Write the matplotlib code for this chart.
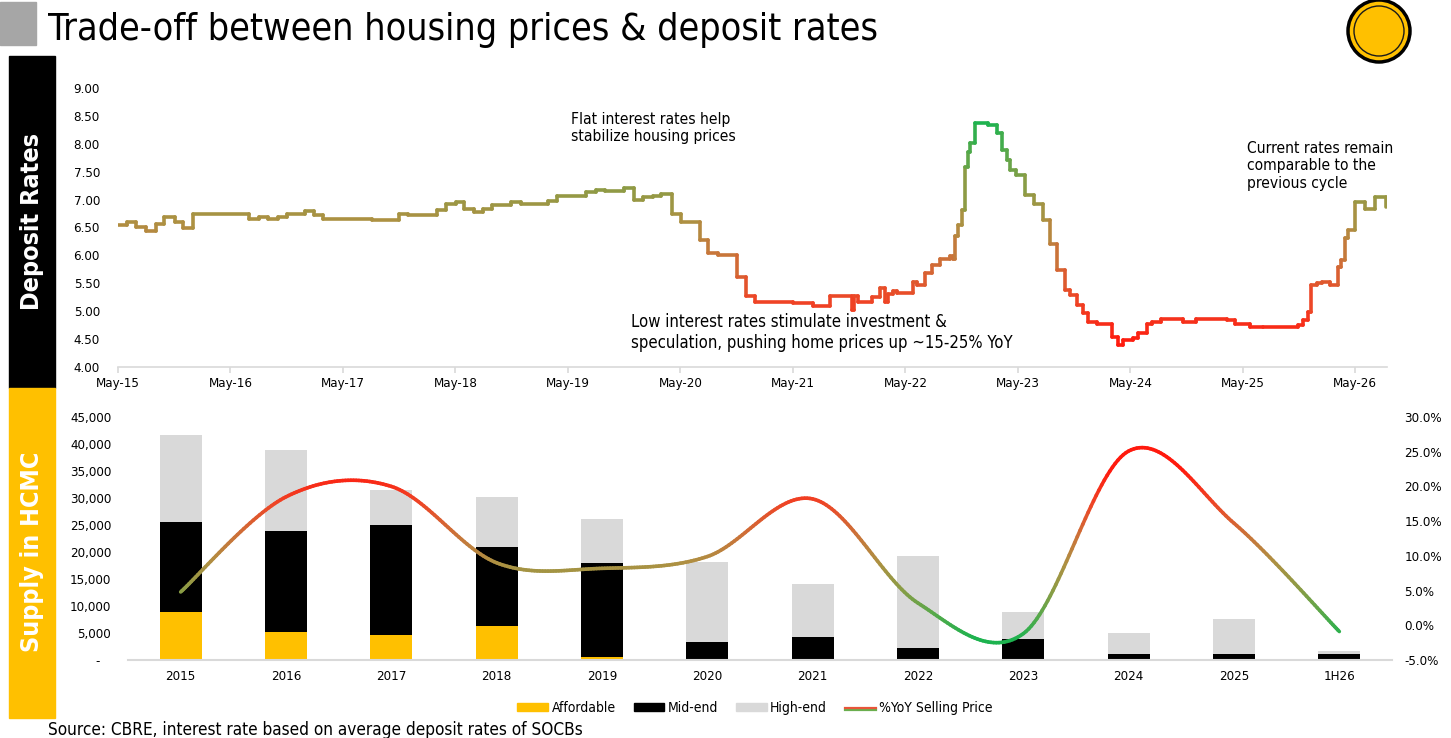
import numpy as np
import matplotlib.pyplot as plt
from matplotlib.collections import LineCollection
from matplotlib.colors import LinearSegmentedColormap, Normalize
from matplotlib.patches import Rectangle, Circle, Patch
from matplotlib.lines import Line2D

plt.rcParams['font.family'] = ['DejaVu Sans']
plt.rcParams['font.stretch'] = 'condensed'

# deposit rates: time of each change (decimal year) and the new rate (%)
rate_time = [2015.33, 2015.41, 2015.49, 2015.58, 2015.67, 2015.74, 2015.84, 2015.91,
             2016.00, 2016.50, 2016.59, 2016.67, 2016.76, 2016.84, 2017.00, 2017.08,
             2017.16, 2017.59, 2017.83, 2017.91, 2018.17, 2018.25, 2018.34, 2018.41,
             2018.50, 2018.58, 2018.66, 2018.83, 2018.92, 2019.16, 2019.24, 2019.49,
             2019.58, 2019.66, 2019.83, 2019.92, 2020.00, 2020.09, 2020.16, 2020.26,
             2020.34, 2020.51, 2020.58, 2020.67, 2020.84, 2020.92, 2021.00, 2021.33,
             2021.51, 2021.66, 2021.86, 2021.88, 2021.91, 2022.04, 2022.11, 2022.15,
             2022.18, 2022.22, 2022.26, 2022.40, 2022.44, 2022.51, 2022.57, 2022.64,
             2022.73, 2022.76, 2022.77, 2022.80, 2022.84, 2022.86, 2022.89, 2022.91,
             2022.95, 2023.07, 2023.15, 2023.19, 2023.24, 2023.26, 2023.32, 2023.40,
             2023.48, 2023.56, 2023.62, 2023.68, 2023.75, 2023.80, 2023.86, 2023.91,
             2023.96, 2024.04, 2024.17, 2024.22, 2024.27, 2024.36, 2024.40, 2024.48,
             2024.53, 2024.61, 2024.80, 2024.92, 2025.19, 2025.26, 2025.40, 2025.51,
             2025.82, 2025.87, 2025.91, 2025.94, 2025.99, 2026.04, 2026.11, 2026.18,
             2026.21, 2026.24, 2026.27, 2026.33, 2026.42, 2026.51, 2026.61]
rate_value = [6.54, 6.60, 6.51, 6.44, 6.56, 6.68, 6.59, 6.50,
              6.75, 6.65, 6.68, 6.65, 6.69, 6.74, 6.80, 6.72,
              6.66, 6.63, 6.75, 6.72, 6.81, 6.92, 6.95, 6.83,
              6.78, 6.84, 6.90, 6.95, 6.92, 6.98, 7.07, 7.14,
              7.17, 7.15, 7.20, 7.00, 7.04, 7.06, 7.10, 6.75,
              6.59, 6.28, 6.04, 6.01, 5.62, 5.27, 5.17, 5.15,
              5.10, 5.27, 5.02, 5.27, 5.17, 5.25, 5.42, 5.17,
              5.30, 5.37, 5.33, 5.53, 5.47, 5.68, 5.83, 5.93,
              5.99, 5.94, 6.34, 6.55, 6.81, 7.59, 7.85, 8.01,
              8.37, 8.34, 8.19, 7.89, 7.71, 7.53, 7.44, 7.08,
              6.93, 6.63, 6.20, 5.74, 5.38, 5.29, 5.11, 4.96,
              4.81, 4.77, 4.54, 4.39, 4.48, 4.52, 4.61, 4.77,
              4.81, 4.86, 4.81, 4.86, 4.84, 4.77, 4.71, 4.72,
              4.75, 4.85, 4.99, 5.47, 5.50, 5.53, 5.47, 5.80,
              5.92, 6.31, 6.46, 6.96, 6.84, 7.05, 6.87]
rate_ticks = ['May-15', 'May-16', 'May-17', 'May-18', 'May-19', 'May-20',
              'May-21', 'May-22', 'May-23', 'May-24', 'May-25', 'May-26']

# supply in HCMC (units) and %YoY selling price
periods = ['2015', '2016', '2017', '2018', '2019', '2020',
           '2021', '2022', '2023', '2024', '2025', '1H26']
affordable = [8800, 5100, 4600, 6300, 500, 0, 0, 0, 0, 0, 0, 0]
mid_end = [16800, 18800, 20400, 14700, 17500, 3300, 4300, 2300, 3800, 1050, 1150, 1150]
high_end = [16100, 14900, 6500, 9250, 8100, 14850, 9850, 17000, 5050, 4000, 6450, 500]
yoy_price = [4.8, 18.5, 20.0, 9.0, 8.2, 9.9, 18.2, 3.2, -1.2, 25.1, 14.7, -0.9]

W, H = 1451, 738
def fx(x):
    return x / W
def fy(y):
    return 1 - y / H

grad = LinearSegmentedColormap.from_list('grad', [
    (0.0, '#FF1A0E'), (0.2, '#EE4526'), (0.4, '#C9753A'), (0.55, '#AE9042'),
    (0.7, '#8E9B45'), (0.85, '#5AA84A'), (1.0, '#1DB34F')])

fig = plt.figure(figsize=(W / 100, H / 100), dpi=100)

# header
fig.add_artist(Rectangle((0, fy(45)), fx(36), 43 / H, transform=fig.transFigure,
                         color='#A6A6A6'))
fig.text(fx(48), fy(40), 'Trade-off between housing prices & deposit rates',
         fontsize=27, va='baseline', color='black')
fig.add_artist(Circle((13.79, (H - 31) / 100), 0.31, transform=fig.dpi_scale_trans,
                      facecolor='#FFC000', edgecolor='black', lw=2.5))
fig.add_artist(Circle((13.79, (H - 31) / 100), 0.25, transform=fig.dpi_scale_trans,
                      facecolor='none', edgecolor='#1A1A1A', lw=1.0))

# side labels
fig.add_artist(Rectangle((fx(9), fy(388)), fx(46), 332 / H, transform=fig.transFigure,
                         color='black'))
fig.add_artist(Rectangle((fx(9), fy(718)), fx(46), 330 / H, transform=fig.transFigure,
                         color='#FFC000'))
fig.text(fx(32), fy(221), 'Deposit Rates', rotation=90, color='white',
         fontweight='bold', fontsize=18, ha='center', va='center')
fig.text(fx(32), fy(552), 'Supply in HCMC', rotation=90, color='white',
         fontweight='bold', fontsize=18, ha='center', va='center')

# ---- deposit rates
ax1 = fig.add_axes([fx(118), fy(367), (1387 - 118) / W, (367 - 88) / H])
t = np.array(rate_time)
v = np.array(rate_value)
xs = np.repeat(t, 2)[1:]
ys = np.repeat(v, 2)[:-1]
pts = np.column_stack([xs, ys]).reshape(-1, 1, 2)
segs = np.concatenate([pts[:-1], pts[1:]], axis=1)
mids = (ys[:-1] + ys[1:]) / 2
lc = LineCollection(segs, cmap=grad, norm=Normalize(4.4, 8.4), linewidths=2.6,
                    capstyle='round', joinstyle='round')
lc.set_array(mids)
ax1.add_collection(lc)
ax1.set_xlim(2015 + 4 / 12, 2026.615)
ax1.set_ylim(4, 9)
ax1.set_yticks(np.arange(4, 9.01, 0.5))
ax1.set_yticklabels([f'{x:.2f}' for x in np.arange(4, 9.01, 0.5)])
ax1.set_xticks([2015 + i + 4 / 12 for i in range(len(rate_ticks))])
ax1.set_xticklabels(rate_ticks)
for s in ['top', 'right', 'left']:
    ax1.spines[s].set_visible(False)
ax1.spines['bottom'].set_color('#D9D9D9')
ax1.spines['bottom'].set_linewidth(1.2)
ax1.tick_params(axis='y', length=0, pad=13, labelsize=9.5)
ax1.tick_params(axis='x', length=4, color='#D9D9D9', width=1.2, pad=3, labelsize=9.5)

fig.text(fx(571), fy(112), 'Flat interest rates help\nstabilize housing prices',
         fontsize=11.2, va='top', linespacing=1.2)
fig.text(fx(631), fy(313), 'Low interest rates stimulate investment &\n'
         'speculation, pushing home prices up ~15-25% YoY',
         fontsize=12, va='top', linespacing=1.25)
fig.text(fx(1247), fy(141), 'Current rates remain\ncomparable to the\nprevious cycle',
         fontsize=11.2, va='top', linespacing=1.2)

# ---- supply bars
ax2 = fig.add_axes([fx(128), fy(660), 1264 / W, 243 / H])
idx = np.arange(len(periods))
a = np.array(affordable)
m = np.array(mid_end)
h = np.array(high_end)
ax2.bar(idx, a, width=0.4, color='#FFC000', label='Affordable')
ax2.bar(idx, m, width=0.4, bottom=a, color='black', label='Mid-end')
ax2.bar(idx, h, width=0.4, bottom=a + m, color='#D9D9D9', label='High-end')
ax2.set_xlim(-0.5, len(periods) - 0.5)
ax2.set_ylim(0, 45000)
ax2.set_yticks(range(0, 45001, 5000))
ax2.set_yticklabels(['-   '] + [f'{x:,}' for x in range(5000, 45001, 5000)])
ax2.set_xticks(idx)
ax2.set_xticklabels(periods)
for s in ['top', 'right', 'left']:
    ax2.spines[s].set_visible(False)
ax2.spines['bottom'].set_color('#D9D9D9')
ax2.spines['bottom'].set_linewidth(1.5)
ax2.tick_params(axis='y', length=0, pad=12, labelsize=9.5)
ax2.tick_params(axis='x', length=0, pad=7, labelsize=9.5)

# smoothed %YoY line (Bezier through the points, like a smoothed line chart)
ax3 = ax2.twinx()
P = np.column_stack([idx, yoy_price]).astype(float)
Pe = np.vstack([P[0], P, P[-1]])
curve = []
u = np.linspace(0, 1, 40)[:, None]
for i in range(len(P) - 1):
    p0, p3 = Pe[i + 1], Pe[i + 2]
    c1 = p0 + (Pe[i + 2] - Pe[i]) / 6
    c2 = p3 - (Pe[i + 3] - Pe[i + 1]) / 6
    curve.append((1 - u) ** 3 * p0 + 3 * (1 - u) ** 2 * u * c1 + 3 * (1 - u) * u ** 2 * c2 + u ** 3 * p3)
curve = np.vstack(curve)
cp = curve.reshape(-1, 1, 2)
csegs = np.concatenate([cp[:-1], cp[1:]], axis=1)
lc2 = LineCollection(csegs, cmap=grad.reversed(), norm=Normalize(-2, 22.5), linewidths=2.6,
                     capstyle='round')
lc2.set_array((curve[:-1, 1] + curve[1:, 1]) / 2)
ax3.add_collection(lc2)
ax3.set_ylim(-5, 30)
ax3.set_yticks(range(-5, 31, 5))
ax3.set_yticklabels([f'{x:.1f}%' for x in range(-5, 31, 5)])
for s in ax3.spines.values():
    s.set_visible(False)
ax3.tick_params(axis='y', length=0, pad=9, labelsize=9.5)


class GradientLineHandler:
    def legend_artist(self, legend, orig_handle, fontsize, handlebox):
        x0, y0 = handlebox.xdescent, handlebox.ydescent
        w, hh = handlebox.width, handlebox.height
        tr = handlebox.get_transform()
        top = Line2D([x0, x0 + w], [y0 + hh * 0.62] * 2, color='#E8553A', lw=1.6, transform=tr)
        bot = Line2D([x0, x0 + w], [y0 + hh * 0.36] * 2, color='#6AAE4E', lw=1.6, transform=tr)
        handlebox.add_artist(bot)
        handlebox.add_artist(top)
        return top


yoy_handle = Line2D([], [], color='#B07040')
handles = [Patch(color='#FFC000'), Patch(color='black'), Patch(color='#D9D9D9'), yoy_handle]
labels = ['Affordable', 'Mid-end', 'High-end', '%YoY Selling Price']
fig.legend(handles, labels, loc='center', bbox_to_anchor=(fx(755), fy(708)), ncol=4,
           frameon=False, fontsize=10, handlelength=2.2, handleheight=0.55,
           handletextpad=0.25, columnspacing=1.3,
           handler_map={yoy_handle: GradientLineHandler()})

fig.text(fx(48), fy(735), 'Source: CBRE, interest rate based on average deposit rates of SOCBs',
         fontsize=12.3, va='baseline')

fig.savefig('out.png', dpi=100)
